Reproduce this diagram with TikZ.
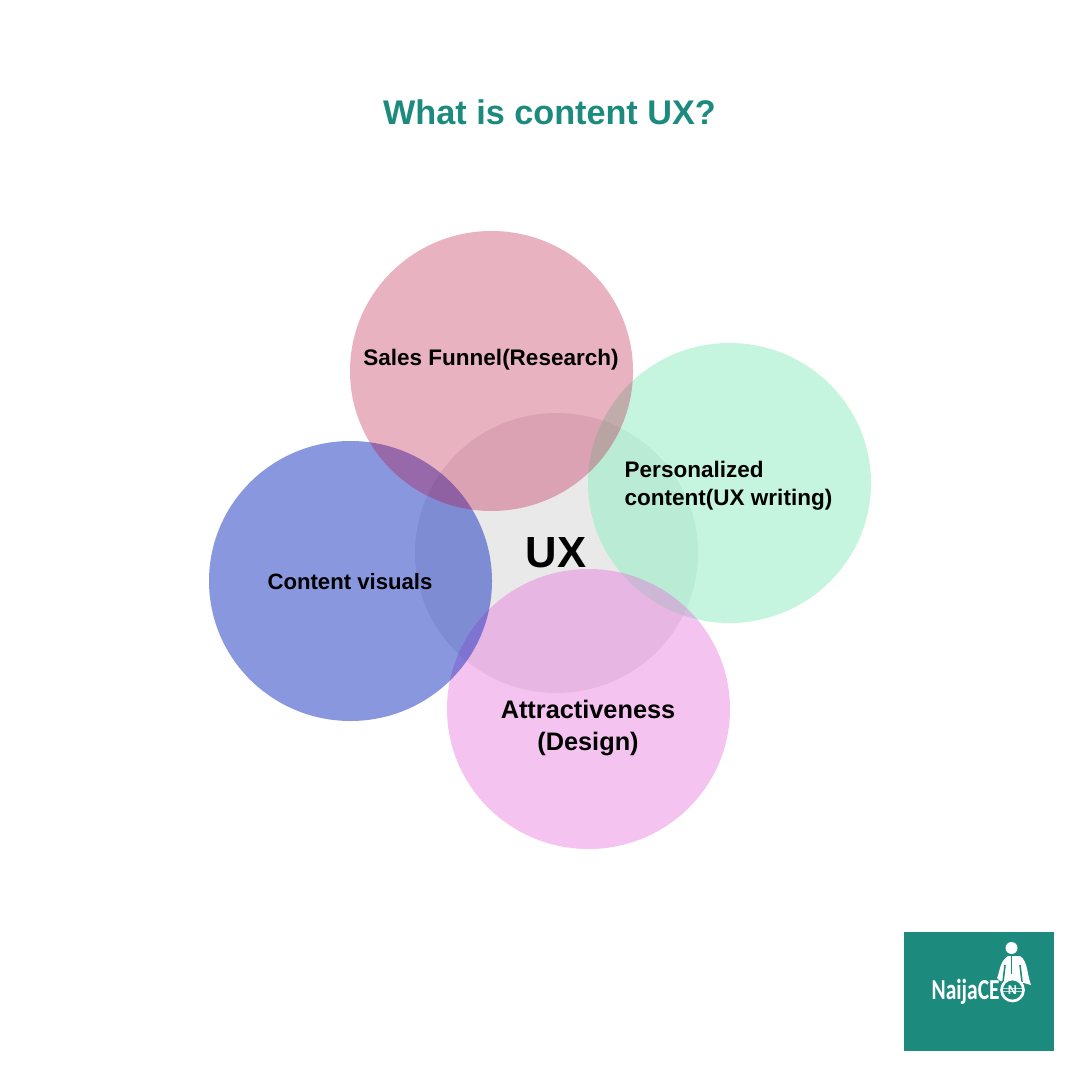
\documentclass[tikz,border=0pt]{standalone}
\usepackage{fontspec}
\setmainfont{Liberation Sans}
\newfontfamily\logofont{Carlito}
\definecolor{tealc}{HTML}{1C8B7E}
\definecolor{pinkc}{RGB}{185,0,52}
\definecolor{greenc}{RGB}{141,237,193}
\definecolor{bluec}{RGB}{21,49,193}
\definecolor{magc}{RGB}{232,107,217}
\tikzset{
  blabel/.style={font=\bfseries\fontsize{6.4}{8}\selectfont,align=left,text=black,inner sep=0pt},
  bubble/.style={x radius=141.5,y radius=140}
}
\begin{document}
\begin{tikzpicture}[x=0.01cm,y=-0.01cm]
    \useasboundingbox (0,0) rectangle (1080,1080);
    \fill[white] (0,0) rectangle (1080,1080);
    \fill[black,opacity=0.086,bubble] (556.5,553) ellipse [];
    \fill[greenc,opacity=0.5,bubble] (729.5,483) ellipse [];
    \fill[magc,opacity=0.4,bubble] (588.5,709) ellipse [];
    \fill[bluec,opacity=0.5,bubble] (350.5,581) ellipse [];
    \fill[pinkc,opacity=0.3,bubble] (491.5,371) ellipse [];
    \node (title) at (549.5,112.5) {\bfseries\fontsize{9.73}{12}\selectfont\textcolor{tealc}{What is content UX?}};
    \node[blabel] (sales) at (491,359.5) {Sales Funnel(Research)};
    \node[blabel,anchor=west] (personal) at (624,486) {Personalized\\content(UX writing)};
    \node[blabel,font=\bfseries\fontsize{6.3}{8}\selectfont] (visuals) at (350,582) {Content visuals};
    \node[blabel,align=center,font=\bfseries\fontsize{7.2}{9.1}\selectfont] (attract) at (588,728) {Attractiveness\\(Design)};
    \node[font=\bfseries\fontsize{12.4}{15}\selectfont] (ux) at (556,553) {UX};
    % logo
    \fill[tealc] (904,932) rectangle (1054,1051);
    \node[font=\logofont\bfseries\fontsize{6.1}{7}\selectfont,text=white,anchor=west,inner sep=0pt] (logo) at (931,992) {\scalebox{1}[1.35]{NaijaCE}};
    \fill[white] (1011.5,948) circle (6);
    \fill[white] (997,978) .. controls (1000,972) and (999,962) .. (1008,956)
      -- (1020,956) .. controls (1028,961) and (1027,975) .. (1031,985)
      -- (1024,983) -- (1000,981) -- cycle;
    \draw[tealc,line width=0.45pt] (1005,965) -- (1003,982);
    \draw[tealc,line width=0.45pt] (1020,965) -- (1022,982);
    \draw[tealc,line width=0.3pt] (1011.5,956) -- (1011.5,974);
    \draw[white,fill=tealc,line width=0.75pt] (1012.5,990) circle (11);
    \draw[white!70!tealc,line width=0.2pt] (1003,988.5) -- (1022,988.5);
    \draw[white!70!tealc,line width=0.2pt] (1003,991.5) -- (1022,991.5);
    \node[font=\bfseries\fontsize{3.6}{4}\selectfont,text=white,inner sep=0pt] (naira) at (1012.5,990) {N};
\end{tikzpicture}
\end{document}
